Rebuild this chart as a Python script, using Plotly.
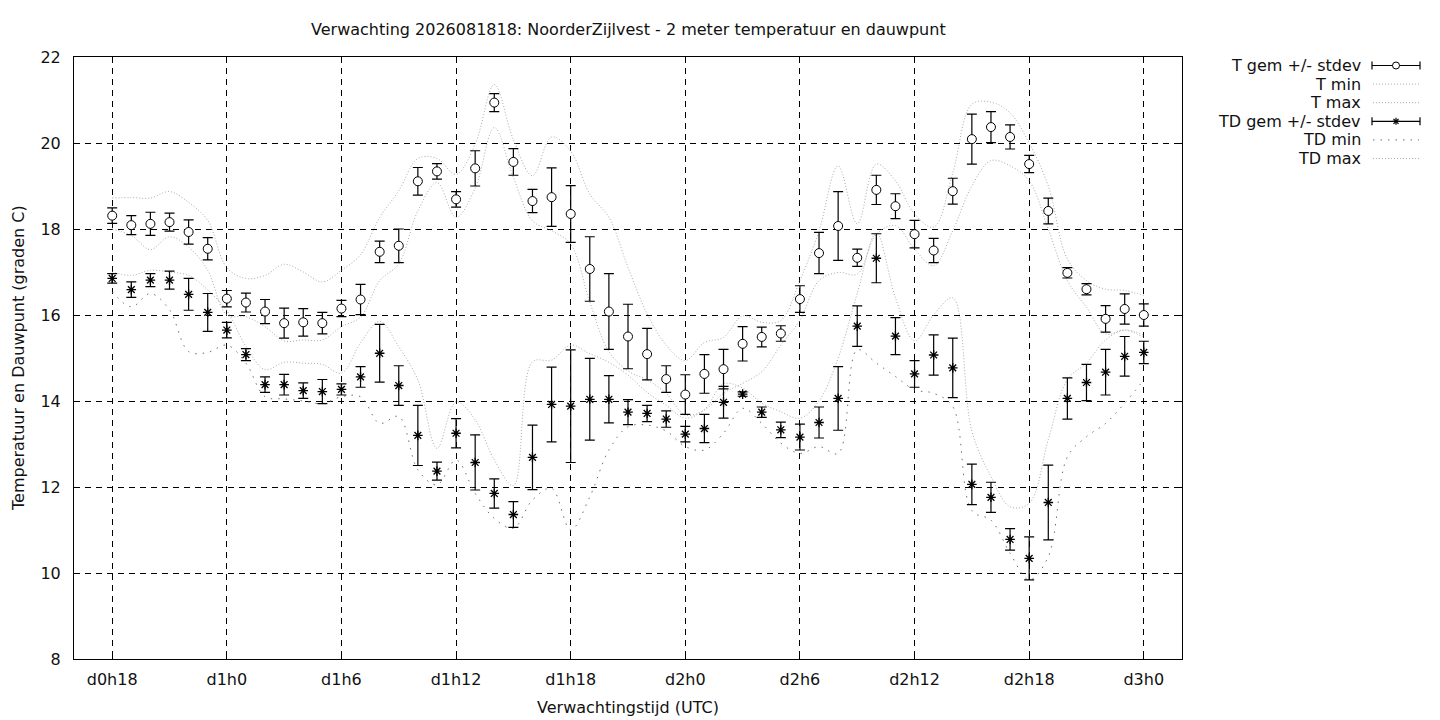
import plotly.graph_objects as go

hours = list(range(18, 73))

t_mean = [18.31, 18.09, 18.12, 18.16, 17.93, 17.54, 16.38, 16.29, 16.08, 15.81,
          15.83, 15.81, 16.15, 16.36, 17.47, 17.61, 19.11, 19.34, 18.69, 19.41,
          20.94, 19.56, 18.65, 18.74, 18.35, 17.07, 16.08, 15.50, 15.09, 14.51,
          14.15, 14.63, 14.74, 15.33, 15.49, 15.57, 16.37, 17.44, 18.07, 17.33,
          18.91, 18.53, 17.88, 17.50, 18.88, 20.09, 20.37, 20.14, 19.51, 18.42,
          16.98, 16.60, 15.91, 16.14, 16.00]
t_sd = [0.18, 0.22, 0.27, 0.21, 0.28, 0.26, 0.19, 0.22, 0.28, 0.35,
        0.32, 0.25, 0.19, 0.35, 0.25, 0.39, 0.32, 0.18, 0.18, 0.41,
        0.21, 0.31, 0.27, 0.68, 0.66, 0.75, 0.88, 0.75, 0.60, 0.31,
        0.46, 0.45, 0.46, 0.40, 0.23, 0.18, 0.31, 0.48, 0.80, 0.20,
        0.34, 0.29, 0.32, 0.28, 0.30, 0.58, 0.36, 0.28, 0.20, 0.30,
        0.12, 0.13, 0.31, 0.35, 0.26]
t_min = [18.00, 17.85, 17.52, 17.82, 17.58, 17.04, 16.00, 15.96, 15.73, 15.40,
         15.42, 15.42, 15.73, 15.95, 16.80, 17.19, 18.42, 19.08, 18.27, 18.95,
         20.36, 19.20, 18.19, 17.96, 17.65, 16.30, 15.15, 14.70, 14.49, 14.18,
         13.67, 13.79, 14.18, 14.41, 14.68, 15.30, 15.88, 16.80, 16.99, 16.95,
         17.88, 18.08, 17.53, 17.15, 17.96, 19.00, 19.59, 19.47, 19.12, 18.00,
         16.80, 16.18, 15.56, 15.65, 15.48]
t_max = [18.72, 18.73, 18.72, 18.87, 18.62, 18.20, 17.10, 16.85, 16.92, 17.18,
         17.00, 16.77, 17.04, 17.40, 18.27, 18.89, 19.64, 19.64, 19.27, 19.97,
         21.36, 20.08, 19.24, 20.14, 19.81, 18.81, 18.27, 17.11, 16.03, 15.30,
         14.94, 15.36, 15.48, 15.98, 15.83, 15.87, 16.80, 17.96, 19.47, 18.12,
         19.51, 19.12, 18.35, 18.04, 19.30, 20.90, 20.95, 20.70, 20.00, 19.00,
         17.30, 16.80, 16.60, 16.57, 16.45]

td_mean = [16.85, 16.59, 16.81, 16.81, 16.48, 16.06, 15.65, 15.08, 14.38, 14.38,
           14.24, 14.22, 14.27, 14.56, 15.11, 14.36, 13.20, 12.37, 13.25, 12.57,
           11.85, 11.36, 12.69, 13.92, 13.88, 14.04, 14.04, 13.74, 13.71, 13.58,
           13.23, 13.36, 13.97, 14.16, 13.74, 13.33, 13.16, 13.50, 14.06, 15.74,
           17.32, 15.51, 14.63, 15.07, 14.77, 12.06, 11.76, 10.78, 10.34, 11.64,
           14.06, 14.43, 14.67, 15.04, 15.13]
td_sd = [0.11, 0.18, 0.15, 0.21, 0.37, 0.44, 0.18, 0.14, 0.18, 0.24,
         0.18, 0.28, 0.13, 0.24, 0.67, 0.46, 0.70, 0.21, 0.34, 0.64,
         0.34, 0.30, 0.75, 0.87, 1.31, 0.95, 0.55, 0.29, 0.19, 0.19,
         0.18, 0.33, 0.37, 0.05, 0.12, 0.18, 0.30, 0.36, 0.74, 0.47,
         0.57, 0.43, 0.31, 0.47, 0.69, 0.47, 0.35, 0.25, 0.50, 0.87,
         0.48, 0.42, 0.53, 0.46, 0.26]
td_min = [16.54, 16.19, 16.50, 16.12, 15.15, 15.13, 15.30, 14.88, 14.10, 14.05,
          14.00, 13.94, 14.10, 14.10, 13.48, 13.64, 12.40, 12.05, 12.63, 11.85,
          11.27, 11.04, 11.70, 11.97, 11.00, 11.77, 12.86, 13.40, 13.44, 13.30,
          12.94, 12.86, 13.25, 13.83, 13.48, 13.02, 12.78, 12.94, 12.78, 15.19,
          14.88, 14.57, 14.26, 14.18, 13.87, 11.45, 11.23, 10.46, 9.84, 10.38,
          12.70, 13.17, 13.48, 13.95, 14.49]
td_max = [17.00, 16.92, 17.04, 17.00, 16.92, 16.58, 16.10, 15.27, 14.73, 14.90,
          14.88, 14.85, 14.65, 15.35, 15.85, 15.26, 14.49, 12.90, 13.98, 13.56,
          12.63, 12.03, 14.91, 14.95, 15.30, 15.10, 14.90, 14.60, 14.20, 13.90,
          13.60, 13.80, 14.40, 14.30, 13.95, 13.75, 13.60, 14.00, 15.00, 16.50,
          17.90, 16.40, 15.40, 16.00, 16.40, 13.30, 12.24, 11.54, 11.62, 13.10,
          14.50, 14.88, 15.42, 15.65, 15.53]

tick_vals = [18, 24, 30, 36, 42, 48, 54, 60, 66, 72]
tick_text = ["d0h18", "d1h0", "d1h6", "d1h12", "d1h18", "d2h0", "d2h6", "d2h12", "d2h18", "d3h0"]

legend_labels = ["T gem +/- stdev", "T min", "T max", "TD gem +/- stdev", "TD min", "TD max"]

FONT = "DejaVu Sans"
TXT = "#111111"
LIGHT = "#aaaaaa"
DARK = "#707070"
LIGHT_DASH = "1px,2px"
DARK_DASH = "1.5px,6px"

# the page body has an 8px margin: shrink the figure so it lands on the same pixels
OFF = 8
W, H = 1440 - OFF, 720 - OFF
L, R, T, B = 74 - OFF, 1182 - OFF, 57 - OFF, 659 - OFF

fig = go.Figure()

def line_trace(y, color, dash):
    return go.Scatter(x=hours, y=y, mode="lines", showlegend=False,
                      line=dict(color=color, width=1, dash=dash, shape="spline", smoothing=1.0),
                      hoverinfo="skip")

fig.add_trace(line_trace(t_min, LIGHT, LIGHT_DASH))
fig.add_trace(line_trace(t_max, LIGHT, LIGHT_DASH))
fig.add_trace(line_trace(td_min, DARK, DARK_DASH))
fig.add_trace(line_trace(td_max, LIGHT, LIGHT_DASH))

fig.add_trace(go.Scatter(
    x=hours, y=t_mean, mode="markers", showlegend=False,
    marker=dict(symbol="circle", size=9, color="white", line=dict(color="black", width=1)),
    error_y=dict(type="data", array=t_sd, visible=True, color="black", thickness=1.2, width=5)))
fig.add_trace(go.Scatter(
    x=hours, y=td_mean, mode="markers", showlegend=False,
    marker=dict(symbol="asterisk-open", size=8, color="black", line=dict(color="black", width=1.3)),
    error_y=dict(type="data", array=td_sd, visible=True, color="black", thickness=1.2, width=5)))

axis_common = dict(showline=True, linecolor="black", linewidth=1, mirror="ticks",
                   ticks="inside", ticklen=6, tickcolor="black",
                   showgrid=True, gridcolor="black", gridwidth=1, griddash="6px,5px",
                   zeroline=False, tickfont=dict(family=FONT, size=16, color=TXT))

fig.update_xaxes(range=[16, 74], tickvals=tick_vals, ticktext=tick_text,
                 ticklabelstandoff=6, **axis_common)
fig.update_yaxes(range=[8, 22], dtick=2, tick0=8, ticklabelstandoff=9, **axis_common)

def px2paper(px, py):
    # px, py are pixel positions in the 1440x720 screenshot
    return (px - OFF - L) / (R - L), (B - (py - OFF)) / (B - T)

annotations = []
shapes = []

annotations.append(dict(text="Verwachting 2026081818: NoorderZijlvest - 2 meter temperatuur en dauwpunt",
                        xref="paper", yref="paper", x=0.5, y=1, yshift=28, showarrow=False,
                        xanchor="center", yanchor="middle",
                        font=dict(family=FONT, size=16, color=TXT)))
annotations.append(dict(text="Verwachtingstijd (UTC)", xref="paper", yref="paper",
                        x=0.5, y=0, yshift=-48, showarrow=False, xanchor="center", yanchor="middle",
                        font=dict(family=FONT, size=16, color=TXT)))
annotations.append(dict(text="Temperatuur en Dauwpunt (graden C)", xref="paper", yref="paper",
                        x=0, xshift=-56, y=0.5, textangle=-90, showarrow=False,
                        xanchor="center", yanchor="middle",
                        font=dict(family=FONT, size=16, color=TXT)))

# legend (gnuplot style: text right-aligned, sample to the right)
row_y = [65.5 + 18.6 * i for i in range(6)]
for i, label in enumerate(legend_labels):
    tx, ty = px2paper(1363, row_y[i])
    annotations.append(dict(text=label, xref="paper", yref="paper", x=tx, y=ty,
                            showarrow=False, xanchor="right", yanchor="middle",
                            font=dict(family=FONT, size=16, color=TXT)))
    ax, ay = px2paper(1396, row_y[i])
    base = dict(xref="paper", yref="paper", xsizemode="pixel", ysizemode="pixel",
                xanchor=ax, yanchor=ay)
    if i in (0, 3):
        shapes.append(dict(type="line", x0=-24, x1=24, y0=0, y1=0,
                           line=dict(color="black", width=1.2), **base))
        for cx in (-24, 24):
            shapes.append(dict(type="line", x0=cx, x1=cx, y0=-4, y1=4,
                               line=dict(color="black", width=1.2), **base))
        if i == 0:
            shapes.append(dict(type="circle", x0=-3.5, x1=3.5, y0=-3.5, y1=3.5,
                               fillcolor="white", line=dict(color="black", width=1), **base))
        else:
            for (a, b, c, d) in [(-3.5, 0, 3.5, 0), (0, -3.5, 0, 3.5),
                                 (-2.5, -2.5, 2.5, 2.5), (-2.5, 2.5, 2.5, -2.5)]:
                shapes.append(dict(type="line", x0=a, y0=b, x1=c, y1=d,
                                   line=dict(color="black", width=1.2), **base))
    else:
        color, dash = (DARK, DARK_DASH) if i == 4 else (LIGHT, LIGHT_DASH)
        shapes.append(dict(type="line", x0=-23, x1=23, y0=0, y1=0,
                           line=dict(color=color, width=1, dash=dash), **base))

fig.update_layout(width=W, height=H,
                  margin=dict(l=L, r=W - R, t=T, b=H - B, pad=0),
                  paper_bgcolor="white", plot_bgcolor="white",
                  showlegend=False, annotations=annotations, shapes=shapes,
                  font=dict(family=FONT, size=16, color=TXT))

fig.write_html("out.html")
